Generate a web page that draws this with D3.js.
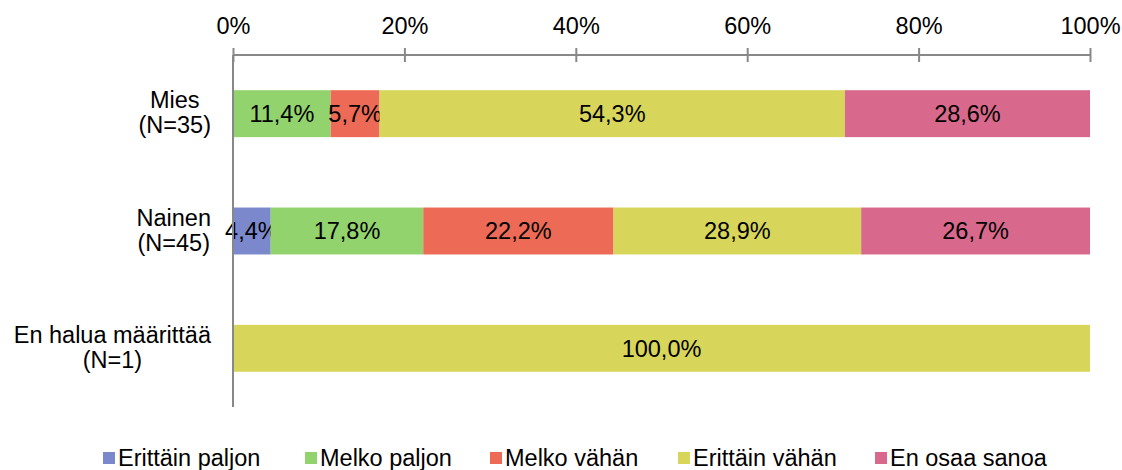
<!DOCTYPE html>
<html>
<head>
<meta charset="utf-8">
<script src="https://cdn.jsdelivr.net/npm/d3@7"></script>
<style>
  body { margin: 0; background: #fff; }
  text { font-family: "Liberation Sans", Arial, sans-serif; }
</style>
</head>
<body>
<svg width="1122" height="470"></svg>
<script>
// categories and series
var groups = [["Mies", "(N=35)"], ["Nainen", "(N=45)"], ["En halua määrittää", "(N=1)"]];
var series = ["Erittäin paljon", "Melko paljon", "Melko vähän", "Erittäin vähän", "En osaa sanoa"];
var colors = ["#7b88cc", "#92d36e", "#ec6a56", "#d8d65a", "#d8698c"];
// values in percent, one array per series (order of groups)
var erittainPaljon = [0, 4.4, 0];
var melkoPaljon = [11.4, 17.8, 0];
var melkoVahan = [5.7, 22.2, 0];
var erittainVahan = [54.3, 28.9, 100];
var enOsaa = [28.6, 26.7, 0];
var ticks = [0, 20, 40, 60, 80, 100];

var values = [erittainPaljon, melkoPaljon, melkoVahan, erittainVahan, enOsaa];
var fs = "23.5px";

var margin = {top: 55, left: 233, right: 32, bottom: 63},
    width = 1122 - margin.left - margin.right,
    height = 470 - margin.top - margin.bottom;

var svg = d3.select("svg")
  .append("g")
  .attr("transform", "translate(" + margin.left + "," + margin.top + ")");

var x = d3.scaleLinear().domain([0, 100]).range([0, width]);
var y = d3.scaleBand().domain(d3.range(groups.length)).range([0, height]).paddingInner(0.6).paddingOuter(0.3);

// build stacked table
var table = groups.map(function(g, i) {
  var row = {i: i};
  series.forEach(function(s, k) { row[s] = values[k][i]; });
  return row;
});
var stacked = d3.stack().keys(series)(table);

// bars
var layer = svg.selectAll(".layer")
  .data(stacked)
  .enter().append("g")
  .attr("fill", function(d, k) { return colors[k]; });

layer.selectAll("rect")
  .data(function(d) { return d; })
  .enter().append("rect")
  .attr("x", function(d) { return x(d[0]); })
  .attr("y", function(d) { return y(d.data.i); })
  .attr("width", function(d) { return x(d[1]) - x(d[0]); })
  .attr("height", y.bandwidth());

// value labels
layer.selectAll("text")
  .data(function(d) { return d.filter(function(p) { return p[1] - p[0] > 0; }); })
  .enter().append("text")
  .attr("x", function(d) { return (x(d[0]) + x(d[1])) / 2; })
  .attr("y", function(d) { return y(d.data.i) + y.bandwidth() / 2; })
  .attr("dy", "0.35em")
  .attr("text-anchor", "middle")
  .attr("fill", "#000")
  .style("font-size", fs)
  .text(function(d) { return (d[1] - d[0]).toFixed(1).replace(".", ",") + "%"; });

// top axis
var axis = svg.append("g")
  .call(d3.axisTop(x).tickValues(ticks).tickSize(7).tickSizeOuter(0)
    .tickFormat(function(d) { return d + "%"; }));
axis.select(".domain").attr("stroke", "#888").attr("stroke-width", 2).attr("d", "M0,0H" + width);
axis.selectAll(".tick line").attr("stroke", "#888").attr("stroke-width", 2).attr("y1", 7).attr("y2", -7);
axis.selectAll(".tick text").attr("y", -21).attr("fill", "#000").style("font-size", fs)
  .style("font-family", "Liberation Sans, Arial, sans-serif");

// left vertical line
svg.append("line")
  .attr("x1", 0).attr("x2", 0).attr("y1", 0).attr("y2", height)
  .attr("stroke", "#888").attr("stroke-width", 2);

// category labels, lines centred in a right-aligned block
groups.forEach(function(g, i) {
  var cy = y(i) + y.bandwidth() / 2;
  var lab = svg.append("g");
  var texts = g.map(function(line, j) {
    return lab.append("text")
      .attr("y", cy + (j - 0.5) * 25 - 1)
      .attr("dy", "0.35em")
      .attr("text-anchor", "middle")
      .style("font-size", fs)
      .text(line);
  });
  var w = d3.max(texts, function(t) { return t.node().getComputedTextLength(); });
  texts.forEach(function(t) { t.attr("x", -22 - w / 2); });
});

// legend
var legendX = [103, 305, 490, 678, 875];
var legend = d3.select("svg").append("g");
series.forEach(function(s, k) {
  var item = legend.append("g").attr("transform", "translate(" + legendX[k] + ",452)");
  item.append("rect").attr("width", 12).attr("height", 12).attr("fill", colors[k]);
  item.append("text").attr("x", 15).attr("y", 6).attr("dy", "0.35em")
    .style("font-size", fs).text(s);
});
</script>
</body>
</html>
